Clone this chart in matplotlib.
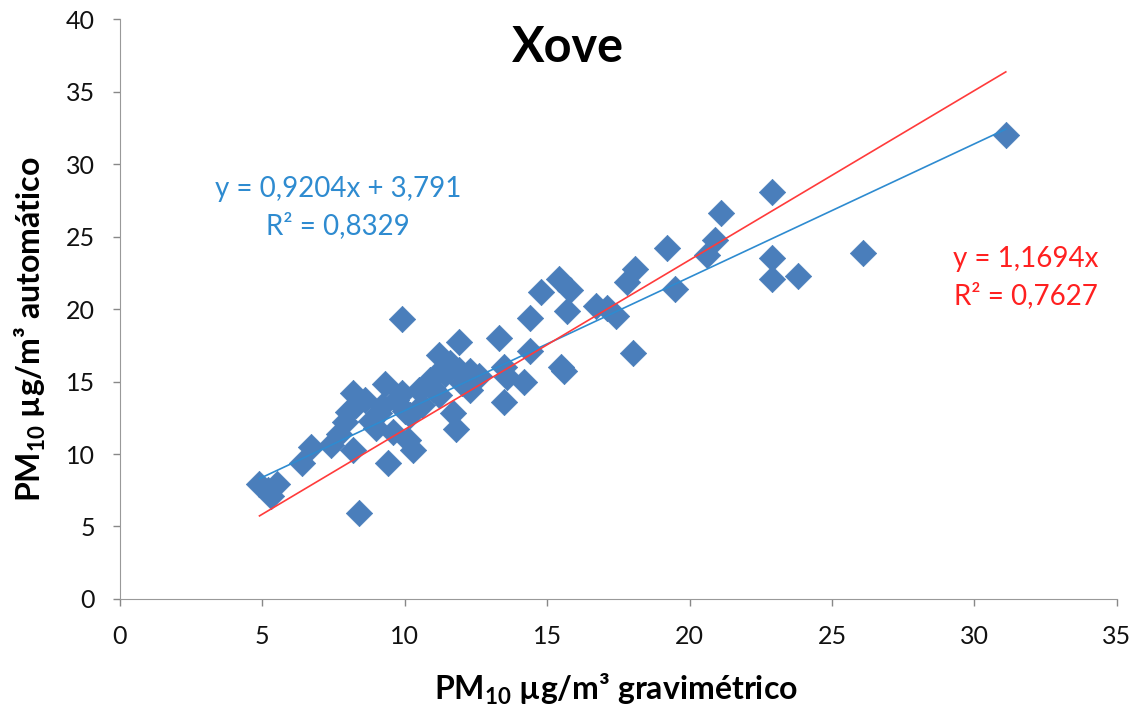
import matplotlib
matplotlib.use('Agg')
import matplotlib.pyplot as plt
import numpy as np

plt.rcParams['font.family'] = ['Lato', 'DejaVu Sans']
plt.rcParams['mathtext.default'] = 'regular'

# data
grav = [4.9, 5.3, 5.5, 5.2, 6.4, 6.7, 7.4, 7.7, 8.0, 8.2, 8.3, 8.2, 8.4, 8.8, 9.0,
        9.1, 9.3, 9.4, 9.6, 9.7, 9.9, 9.9, 10.1, 10.3, 10.2, 10.5, 10.9, 11.2, 11.2,
        11.4, 11.6, 11.7, 11.8, 11.9, 11.9, 12.3, 12.3, 12.6, 13.3, 13.5, 13.5, 13.6,
        14.2, 14.4, 14.4, 14.8, 15.4, 15.5, 15.6, 15.7, 15.8, 16.7, 17.1, 17.4, 17.8,
        18.1, 18.0, 19.2, 19.5, 20.6, 20.9, 21.1, 22.9, 22.9, 22.9, 23.8, 26.1, 31.1,
        10.6, 11.0, 11.3, 12.0, 9.2, 10.0, 8.6, 7.9]
auto = [7.9, 7.1, 7.9, 7.5, 9.4, 10.5, 10.6, 11.4, 12.9, 14.2, 13.4, 10.3, 5.9, 12.3, 11.8,
        12.8, 14.8, 9.4, 11.5, 13.7, 14.2, 19.3, 11.0, 10.3, 12.7, 14.4, 15.1, 16.8, 14.1,
        15.5, 16.3, 12.8, 11.7, 17.7, 15.8, 15.7, 14.4, 15.4, 18.0, 16.0, 13.6, 15.3,
        15.0, 17.1, 19.4, 21.2, 22.1, 16.0, 15.7, 19.9, 21.3, 20.2, 20.1, 19.5, 21.9,
        22.8, 17.0, 24.2, 21.4, 23.7, 24.8, 26.6, 28.1, 23.5, 22.1, 22.3, 23.9, 32.0,
        13.4, 14.5, 15.9, 14.9, 13.3, 13.0, 13.7, 12.2]

fit_lin = (0.9204, 3.791)   # y = a*x + b
fit_orig = 1.1694           # y = a*x

fig = plt.figure(figsize=(11.42, 7.13), dpi=100)
ax = fig.add_axes([0.105, 0.16, 0.873, 0.813])

ax.scatter(grav, auto, marker='D', s=180, color='#4A7EBB', edgecolors='#4A7EBB',
           linewidths=0.5, zorder=2)

xx = np.array([min(grav), max(grav)])
ax.plot(xx, fit_lin[0] * xx + fit_lin[1], color='#2E8BD0', lw=1.2, zorder=3)
ax.plot(xx, fit_orig * xx, color='#FF3B3B', lw=1.2, zorder=3)

ax.text(7.65, 27.0, 'y = 0,9204x + 3,791\nR² = 0,8329', color='#2E8BD0', fontsize=20,
        ha='center', va='center', linespacing=1.45)
ax.text(31.8, 22.2, 'y = 1,1694x\nR² = 0,7627', color='#FF2020', fontsize=20,
        ha='center', va='center', linespacing=1.45)

ax.set_xlim(0, 35)
ax.set_ylim(0, 40)
ax.set_xticks(range(0, 36, 5))
ax.set_yticks(range(0, 41, 5))
ax.tick_params(labelsize=18, colors='#888888', labelcolor='#111111', length=5, width=1)
ax.tick_params(axis='x', pad=14)
ax.tick_params(axis='y', pad=13)
for s in ['top', 'right']:
    ax.spines[s].set_visible(False)
for s in ['left', 'bottom']:
    ax.spines[s].set_color('#999999')

fig.text(0.497, 0.934, 'Xove', fontsize=35, fontweight='bold', ha='center', va='center')
ax.set_xlabel('PM$_{10}$ µg/m³ gravimétrico', fontsize=23, fontweight='bold', va='center')
ax.set_ylabel('PM$_{10}$ µg/m³ automático', fontsize=23, fontweight='bold', va='center')
ax.xaxis.set_label_coords(0.498, -0.157)
ax.yaxis.set_label_coords(-0.09, 0.465)

plt.savefig('out.png', dpi=100)
